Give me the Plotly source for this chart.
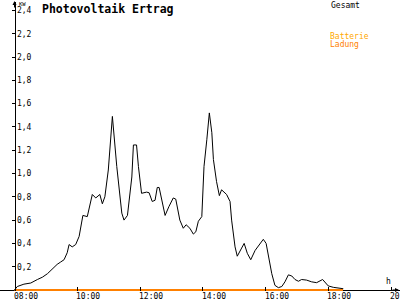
import plotly.graph_objects as go

# Gesamt (total PV yield), hours of day vs kW
hours = [8.00, 8.09, 8.30, 8.52, 8.73, 8.89, 9.05, 9.20, 9.36, 9.47, 9.58, 9.68, 9.74, 9.84, 9.95,
         10.06, 10.18, 10.32, 10.48, 10.59, 10.72, 10.80, 10.88, 10.99, 11.12, 11.26, 11.42, 11.49,
         11.60, 11.74, 11.79, 11.89, 11.95, 12.05, 12.21, 12.29, 12.39, 12.48, 12.55, 12.61, 12.67,
         12.80, 12.92, 13.06, 13.14, 13.27, 13.38, 13.47, 13.59, 13.70, 13.78, 13.86, 13.97, 14.04,
         14.13, 14.21, 14.29, 14.34, 14.44, 14.53, 14.60, 14.76, 14.87, 14.92, 15.03, 15.10, 15.24,
         15.32, 15.42, 15.53, 15.67, 15.82, 15.93, 16.02, 16.09, 16.20, 16.30, 16.41, 16.52, 16.62,
         16.73, 16.84, 16.94, 17.05, 17.15, 17.31, 17.47, 17.63, 17.82, 17.92, 18.00, 18.16, 18.32,
         18.48]
gesamt_kw = [0.00, 0.03, 0.05, 0.06, 0.09, 0.11, 0.14, 0.18, 0.22, 0.24, 0.26, 0.32, 0.39, 0.37, 0.39,
             0.46, 0.64, 0.63, 0.82, 0.79, 0.82, 0.74, 0.80, 1.03, 1.49, 1.06, 0.66, 0.60,
             0.64, 0.97, 1.245, 1.245, 1.06, 0.83, 0.84, 0.835, 0.76, 0.77, 0.88, 0.88, 0.80,
             0.64, 0.715, 0.79, 0.78, 0.60, 0.53, 0.56, 0.53, 0.48, 0.50, 0.59, 0.63, 1.06,
             1.29, 1.52, 1.35, 1.12, 0.93, 0.81, 0.86, 0.82, 0.76, 0.60, 0.37, 0.29, 0.36,
             0.40, 0.315, 0.26, 0.34, 0.39, 0.435, 0.40, 0.30, 0.14, 0.04, 0.02, 0.03, 0.07,
             0.13, 0.12, 0.09, 0.075, 0.09, 0.085, 0.07, 0.063, 0.09, 0.063, 0.035, 0.023, 0.015,
             0.011]

# Batterie Ladung (battery charge)
battery_hours = [8.00, 18.47]
battery_kw = [0.0, 0.0]

x_tickvals = [8, 10, 12, 14, 16, 18, 20]
x_ticktext = ["08:00", "10:00", "12:00", "14:00", "16:00", "18:00", "20:00"]
y_tickvals = [0.2, 0.4, 0.6, 0.8, 1.0, 1.2, 1.4, 1.6, 1.8, 2.0, 2.2, 2.4]
y_ticktext = ["0,2", "0,4", "0,6", "0,8", "1,0", "1,2", "1,4", "1,6", "1,8", "2,0", "2,2", "2,4"]

MONO = "DejaVu Sans Mono"
W, H, T, B = 400, 300, 2, 9
PH = H - T - B


def py(p):
    """pixel row -> paper y (relative to plot area)"""
    return (H - B - p) / PH


fig = go.Figure()
fig.add_trace(go.Scatter(x=battery_hours, y=battery_kw, mode="lines",
                         line=dict(color="#FF8000", width=2), name="Batterie Ladung"))
fig.add_trace(go.Scatter(x=hours, y=gesamt_kw, mode="lines",
                         line=dict(color="black", width=1), name="Gesamt"))

fig.update_layout(
    width=W, height=H,
    margin=dict(l=0, r=0, t=T, b=B),
    plot_bgcolor="white", paper_bgcolor="white",
    showlegend=False,
    xaxis=dict(range=[7.538, 20.287], tickvals=x_tickvals, showticklabels=False,
               ticks="inside", ticklen=4, tickcolor="black", showgrid=False, zeroline=False,
               showline=False),
    yaxis=dict(range=[-0.0086, 2.4721], tickvals=y_tickvals, ticktext=y_ticktext,
               anchor="free", position=14.5 / W, side="left",
               ticks="outside", ticklen=3, tickcolor="black",
               showline=True, linecolor="black", linewidth=1,
               showgrid=False, zeroline=True, zerolinecolor="black", zerolinewidth=1,
               ticklabelposition="inside",
               tickfont=dict(family=MONO, size=8, color="black")),
)

annotations = [
    dict(x=tv, y=py(296), xref="x", yref="paper", text=tt, showarrow=False,
         xanchor="left", yanchor="middle", xshift=-3,
         font=dict(family=MONO, size=8, color="black"))
    for tv, tt in zip(x_tickvals, x_ticktext)
]
annotations += [
    dict(x=40 / W, y=py(9), xref="paper", yref="paper", text="<b>Photovoltaik Ertrag</b>",
         showarrow=False, xanchor="left", yanchor="middle",
         font=dict(family=MONO, size=11.5, color="black")),
    dict(x=329 / W, y=py(5), xref="paper", yref="paper", text="Gesamt",
         showarrow=False, xanchor="left", yanchor="middle",
         font=dict(family=MONO, size=8, color="black")),
    dict(x=328 / W, y=py(36), xref="paper", yref="paper", text="Batterie",
         showarrow=False, xanchor="left", yanchor="middle",
         font=dict(family=MONO, size=8, color="#FFA800")),
    dict(x=328 / W, y=py(44), xref="paper", yref="paper", text="Ladung",
         showarrow=False, xanchor="left", yanchor="middle",
         font=dict(family=MONO, size=8, color="#FF8000")),
    dict(x=17 / W, y=py(-1), xref="paper", yref="paper", text="KW",
         showarrow=False, xanchor="left", yanchor="top",
         font=dict(family=MONO, size=5.5, color="black")),
    dict(x=384 / W, y=py(281), xref="paper", yref="paper", text="h",
         showarrow=False, xanchor="left", yanchor="middle",
         font=dict(family=MONO, size=8, color="black")),
    # axis arrowheads
    dict(x=14.5 / W, y=py(1), xref="paper", yref="paper", ax=0, ay=8,
         text="", showarrow=True, arrowhead=2, arrowsize=0.8, arrowwidth=1, arrowcolor="black"),
    dict(x=399 / W, y=py(290), xref="paper", yref="paper", ax=-8, ay=0,
         text="", showarrow=True, arrowhead=2, arrowsize=0.8, arrowwidth=1, arrowcolor="black"),
]
fig.update_layout(annotations=annotations)

fig.write_html("out.html")
